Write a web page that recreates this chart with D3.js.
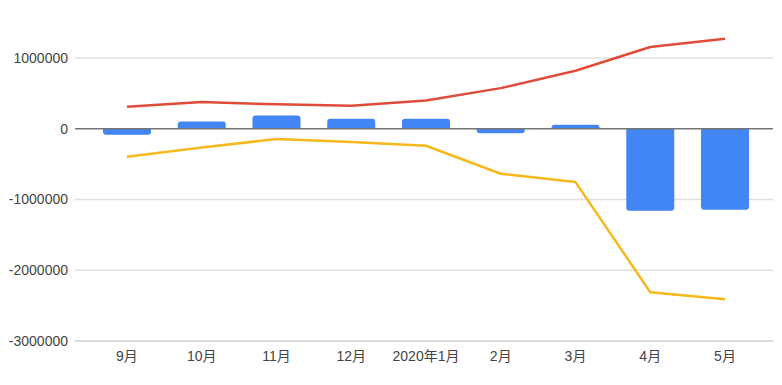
<!DOCTYPE html>
<html>
<head>
<meta charset="utf-8">
<script src="https://cdn.jsdelivr.net/npm/d3@7"></script>
<style>
  body { margin: 0; background: #fff; }
  text { font-family: Arial, "Liberation Sans", "Noto Sans CJK SC", sans-serif; }
</style>
</head>
<body>
<div id="chartbox"></div>
<script>
const months = ['9月', '10月', '11月', '12月', '2020年1月', '2月', '3月', '4月', '5月']
const barValues = [-85000, 103000, 188000, 141000, 140000, -62000, 57000, -1160000, -1145000]
const redValues = [311000, 377000, 345000, 325000, 400000, 574000, 820000, 1155000, 1273000]
const yellowValues = [-396000, -264000, -146000, -189000, -240000, -636000, -754000, -2310000, -2409000]
const yTicks = [1000000, 0, -1000000, -2000000, -3000000]

const WIDTH = 782
const HEIGHT = 385
const chart = { left: 75, right: 773, top: 58, bottom: 341 }

const svg = d3.select('#chartbox')
  .append('svg')
  .attr('width', WIDTH)
  .attr('height', HEIGHT)

const x = d3.scaleBand()
  .domain(months)
  .range([89.6, 762.4])
  .paddingInner(0.358)
  .paddingOuter(0.179)

const y = d3.scaleLinear()
  .domain([-3000000, 1000000])
  .range([chart.bottom, chart.top])

const cx = d => x(d) + x.bandwidth() / 2

// gridlines
svg.append('g')
  .selectAll('line')
  .data(yTicks.filter(t => t !== 0))
  .enter()
  .append('line')
  .attr('x1', chart.left)
  .attr('x2', chart.right)
  .attr('y1', d => y(d))
  .attr('y2', d => y(d))
  .attr('stroke', d => d === -3000000 ? '#cccccc' : '#e0e0e0')
  .attr('stroke-width', 1.5)

// y labels
svg.append('g')
  .selectAll('text')
  .data(yTicks)
  .enter()
  .append('text')
  .attr('x', 68)
  .attr('y', d => y(d))
  .attr('dy', '0.35em')
  .attr('text-anchor', 'end')
  .attr('font-size', 14)
  .attr('fill', '#444')
  .text(d => d)

// x labels
svg.append('g')
  .selectAll('text')
  .data(months)
  .enter()
  .append('text')
  .attr('x', d => cx(d))
  .attr('y', 356)
  .attr('dy', '0.35em')
  .attr('text-anchor', 'middle')
  .attr('font-size', 14)
  .attr('fill', '#444')
  .text(d => d)

// bars, rounded on the far end
const r = 3
const barPath = (d, i) => {
  const v = barValues[i]
  const x0 = x(d), w = x.bandwidth()
  const y0 = y(0), y1 = y(v)
  const s = v >= 0 ? 1 : -1
  const rr = Math.min(r, Math.abs(y1 - y0))
  return `M${x0},${y0} L${x0},${y1 + s * rr} Q${x0},${y1} ${x0 + rr},${y1} ` +
    `L${x0 + w - rr},${y1} Q${x0 + w},${y1} ${x0 + w},${y1 + s * rr} L${x0 + w},${y0} Z`
}

svg.append('g')
  .selectAll('path')
  .data(months)
  .enter()
  .append('path')
  .attr('d', barPath)
  .attr('fill', '#4285f4')

// zero line
svg.append('line')
  .attr('x1', chart.left)
  .attr('x2', chart.right)
  .attr('y1', y(0))
  .attr('y2', y(0))
  .attr('stroke', '#757575')
  .attr('stroke-width', 1.5)

const line = d3.line()
  .x((d, i) => cx(months[i]))
  .y(d => y(d))

svg.append('path')
  .datum(redValues)
  .attr('d', line)
  .attr('fill', 'none')
  .attr('stroke', '#e04b3a')
  .attr('stroke-width', 2.5)
  .attr('stroke-linejoin', 'round')

svg.append('path')
  .datum(yellowValues)
  .attr('d', line)
  .attr('fill', 'none')
  .attr('stroke', '#f6b81b')
  .attr('stroke-width', 2.5)
  .attr('stroke-linejoin', 'round')
</script>
</body>
</html>
